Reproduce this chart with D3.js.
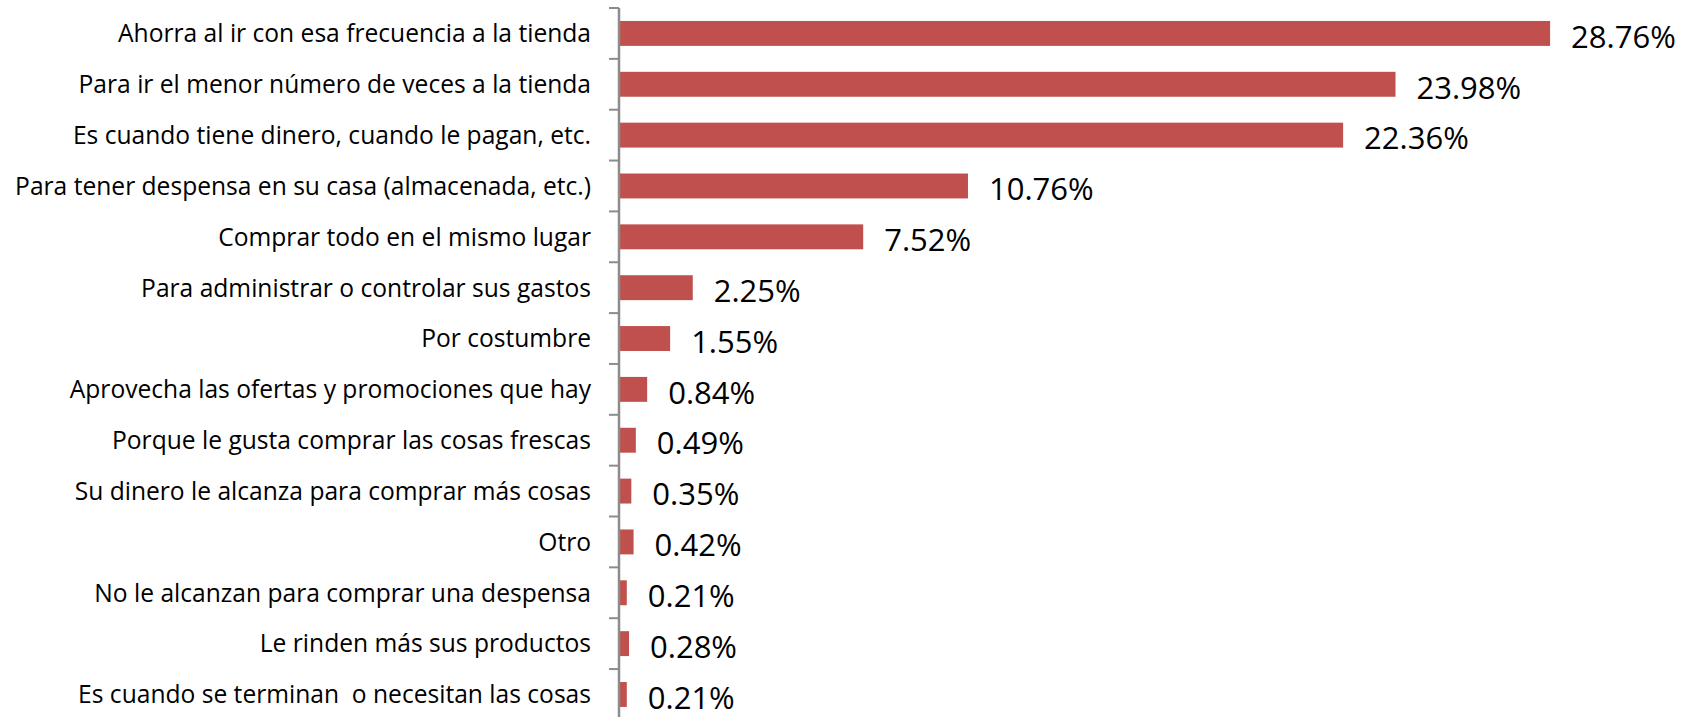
<!DOCTYPE html>
<html>
<head>
<meta charset="utf-8">
<script src="https://cdn.jsdelivr.net/npm/d3@7"></script>
<style>
  body { margin: 0; background: #fff; }
  svg { display: block; }
  text { white-space: pre; }
</style>
</head>
<body>
<div id="chart"></div>
<script>
// categories, top to bottom
var categories = [
  'Ahorra al ir con esa frecuencia a la tienda',
  'Para ir el menor número de veces a la tienda',
  'Es cuando tiene dinero, cuando le pagan, etc.',
  'Para tener despensa en su casa (almacenada, etc.)',
  'Comprar todo en el mismo lugar',
  'Para administrar o controlar sus gastos',
  'Por costumbre',
  'Aprovecha las ofertas y promociones que hay',
  'Porque le gusta comprar las cosas frescas',
  'Su dinero le alcanza para comprar más cosas',
  'Otro',
  'No le alcanzan para comprar una despensa',
  'Le rinden más sus productos',
  'Es cuando se terminan  o necesitan las cosas'
];

var values = [28.76, 23.98, 22.36, 10.76, 7.52, 2.25, 1.55, 0.84, 0.49, 0.35, 0.42, 0.21, 0.28, 0.21];

var valueLabels = ['28.76%', '23.98%', '22.36%', '10.76%', '7.52%', '2.25%', '1.55%',
  '0.84%', '0.49%', '0.35%', '0.42%', '0.21%', '0.28%', '0.21%'];

var rows = categories.map(function(c, i) {
  return { cat: c, value: values[i], label: valueLabels[i] };
});

var width = 1694, height = 717;

var svg = d3.select('#chart')
  .append('svg')
    .attr('width', width)
    .attr('height', height);

var x = d3.scaleLinear()
  .domain([0, 30])
  .range([620, 620 + 32.34 * 30]);

var y = d3.scaleBand()
  .domain(categories)
  .range([8, 8 + 14 * 50.85])
  .paddingInner(0.51)
  .paddingOuter(0.255);

// bars
svg.selectAll('rect.bar')
  .data(rows)
  .enter()
  .append('rect')
    .attr('class', 'bar')
    .attr('x', x(0))
    .attr('y', function(d) { return y(d.cat); })
    .attr('height', y.bandwidth())
    .attr('width', function(d) { return x(d.value) - x(0); })
    .attr('fill', '#C0504D');

// value labels
svg.selectAll('text.val')
  .data(rows)
  .enter()
  .append('text')
    .attr('class', 'val')
    .attr('x', function(d) { return x(d.value) + 21; })
    .attr('y', function(d) { return y(d.cat) + y.bandwidth() / 2; })
    .attr('dy', '0.46em')
    .style('font-family', '"Open Sans", sans-serif')
    .style('font-size', '31px')
    .attr('fill', '#000')
    .text(function(d) { return d.label; });

// category axis: line with ticks at band edges
var axisX = 619;
var edges = d3.range(categories.length + 1).map(function(i) {
  return 8 + i * 50.85;
});

svg.append('line')
  .attr('x1', axisX).attr('x2', axisX)
  .attr('y1', edges[0]).attr('y2', height)
  .attr('stroke', '#8c8c8c')
  .attr('stroke-width', 2.5);

svg.selectAll('line.tick')
  .data(edges)
  .enter()
  .append('line')
    .attr('class', 'tick')
    .attr('x1', axisX - 10).attr('x2', axisX)
    .attr('y1', function(d) { return d; })
    .attr('y2', function(d) { return d; })
    .attr('stroke', '#8c8c8c')
    .attr('stroke-width', 2);

svg.selectAll('text.cat')
  .data(rows)
  .enter()
  .append('text')
    .attr('class', 'cat')
    .attr('x', 591)
    .attr('y', function(d) { return y(d.cat) + y.bandwidth() / 2; })
    .attr('dy', '0.36em')
    .attr('text-anchor', 'end')
    .style('font-family', '"Open Sans", sans-serif')
    .style('font-size', '24.6px')
    .attr('fill', '#000')
    .text(function(d) { return d.cat; });
</script>
</body>
</html>
